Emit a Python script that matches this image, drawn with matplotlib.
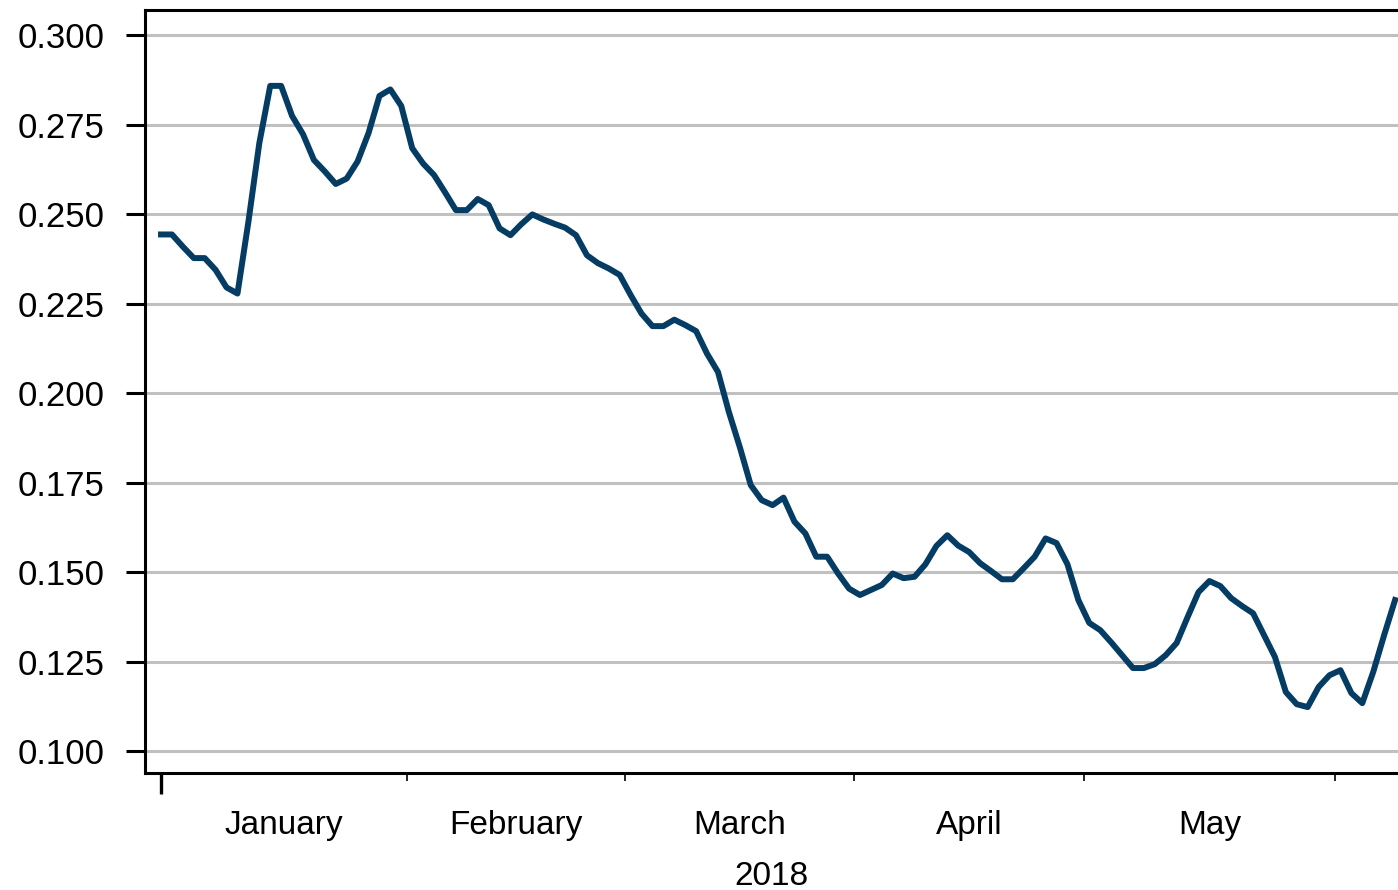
#!/usr/bin/env python3
"""
2018年1-5月日度序列折线图
"""
import numpy as np
import pandas as pd
import matplotlib
matplotlib.use('Agg')
import matplotlib.pyplot as plt

plt.rcParams['font.family'] = ['Liberation Sans', 'DejaVu Sans']

# 数据 (交易日, 从 2018-01-01 起, 耶稣受难日休市)
start_date = '2018-01-01'
holidays = ['2018-03-30']
values = [
    0.2443, 0.2443, 0.2409, 0.2377, 0.2377, 0.2344, 0.2295, 0.2278, 0.2478, 0.2698,
    0.2858, 0.2858, 0.2774, 0.2723, 0.2651, 0.2619, 0.2584, 0.2599, 0.2647, 0.2726,
    0.2830, 0.2848, 0.2802, 0.2684, 0.2641, 0.2609, 0.2561, 0.2511, 0.2511, 0.2542,
    0.2525, 0.2460, 0.2441, 0.2472, 0.2499, 0.2485, 0.2473, 0.2462, 0.2441, 0.2385,
    0.2363, 0.2348, 0.2330, 0.2274, 0.2222, 0.2187, 0.2187, 0.2205, 0.2190, 0.2173,
    0.2110, 0.2059, 0.1947, 0.1849, 0.1743, 0.1701, 0.1687, 0.1708, 0.1641, 0.1608,
    0.1543, 0.1543, 0.1496, 0.1454, 0.1436, 0.1450, 0.1464, 0.1496, 0.1483, 0.1487,
    0.1522, 0.1573, 0.1603, 0.1574, 0.1556, 0.1525, 0.1503, 0.1480, 0.1480, 0.1511,
    0.1543, 0.1594, 0.1581, 0.1522, 0.1422, 0.1358, 0.1338, 0.1304, 0.1268, 0.1232,
    0.1232, 0.1243, 0.1268, 0.1302, 0.1374, 0.1444, 0.1475, 0.1461, 0.1427, 0.1405,
    0.1385, 0.1324, 0.1263, 0.1165, 0.1131, 0.1123, 0.1179, 0.1212, 0.1226, 0.1162,
    0.1134, 0.1221, 0.1324, 0.1422,
]
y_ticks = [0.100, 0.125, 0.150, 0.175, 0.200, 0.225, 0.250, 0.275, 0.300]
year_label = '2018'

LINE_COLOR = '#053c64'
GRID_COLOR = '#c0c0c0'


def main():
    dates = pd.bdate_range(start_date, periods=len(values), freq='C', holidays=holidays)
    x = np.arange(len(values))

    # 月份边界 (上月最后一天与本月第一天之间)
    months = dates.to_period('M')
    change = np.where(months[1:] != months[:-1])[0] + 0.5
    bounds = np.concatenate([[0.0], change])
    centers = (bounds[:-1] + bounds[1:]) / 2
    month_names = [dates[int(np.ceil(b))].strftime('%B') for b in bounds[:-1]]

    fig = plt.figure(figsize=(13.98, 8.90), dpi=100)
    ax = fig.add_axes([0.1037, 0.1315, 0.8963, 0.8573])

    ax.plot(x, values, color=LINE_COLOR, linewidth=4.3, solid_joinstyle='round')

    ax.set_xlim(-1.47, 113.27)
    ax.set_ylim(0.0939, 0.307)

    ax.set_yticks(y_ticks)
    ax.set_yticklabels([f'{v:.3f}' for v in y_ticks])
    ax.yaxis.grid(True, color=GRID_COLOR, linewidth=2.2)
    ax.set_axisbelow(True)
    ax.tick_params(axis='y', length=14, width=2.2, pad=15, labelsize=25)

    # 月份标签在中间, 边界用短刻度
    ax.set_xticks(centers)
    ax.set_xticklabels(month_names)
    ax.set_xticks(bounds[1:], minor=True)
    ax.tick_params(axis='x', which='major', length=0, pad=27, labelsize=24)
    ax.tick_params(axis='x', which='minor', length=6, width=1.2)

    # 年份起点长刻度
    sec = ax.secondary_xaxis('bottom')
    sec.set_xticks([0])
    sec.tick_params(length=15, width=2.4, labelbottom=False)
    sec.spines['bottom'].set_visible(False)

    ax.set_xlabel(year_label, fontsize=24, labelpad=14)

    for side in ['left', 'bottom', 'top']:
        ax.spines[side].set_linewidth(2.2)
    ax.spines['right'].set_visible(False)

    fig.savefig('out.png', dpi=100)
    plt.close(fig)


if __name__ == '__main__':
    main()
